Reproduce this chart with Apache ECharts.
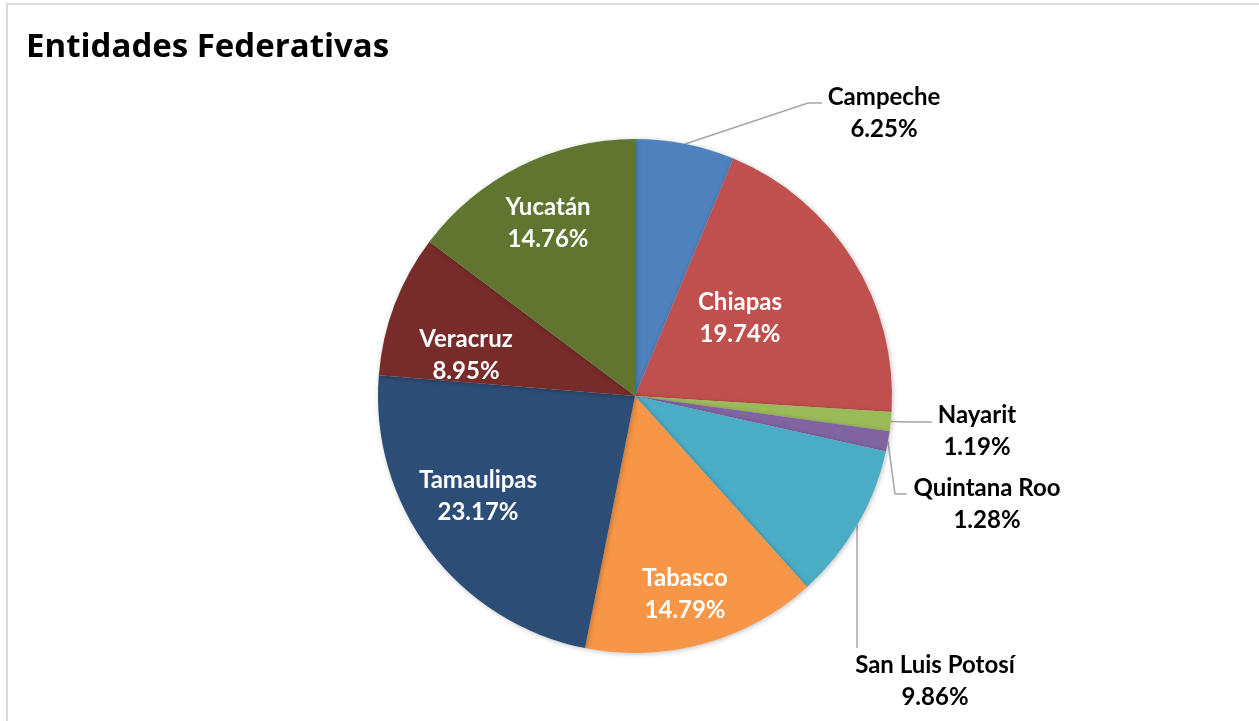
<!DOCTYPE html>
<html>
<head>
<meta charset="utf-8">
<script src="https://cdn.jsdelivr.net/npm/echarts@6/dist/echarts.min.js"></script>
<style>
  html, body { margin: 0; padding: 0; background: #fff; }
  #chart { width: 1259px; height: 721px; }
</style>
</head>
<body>
<div id="chart"></div>
<script>
const states = ['Campeche', 'Chiapas', 'Nayarit', 'Quintana Roo', 'San Luis Potosí', 'Tabasco', 'Tamaulipas', 'Veracruz', 'Yucatán'];
const shares = [6.25, 19.74, 1.19, 1.28, 9.86, 14.79, 23.17, 8.95, 14.76];
const colors = ['#4F81BD', '#C0504D', '#9BBB59', '#8064A2', '#4BACC6', '#F79646', '#2C4D75', '#772C2A', '#5F7530'];
const outside = ['Campeche', 'Nayarit', 'Quintana Roo', 'San Luis Potosí'];

// where Excel placed each label (block centre), same order as states
const labelPos = [
  [884, 113], [740, 318], [977, 431], [987, 504], [935, 681],
  [685, 594], [478, 496], [466, 355], [548, 223],
];

// leader line shape for the outside labels: elbow / end offsets from the label centre
function leader(i, start, pos) {
  const [x, y] = pos;
  if (i === 0) return [start, [x - 76, y - 10], [x - 62, y - 10]];
  if (i === 2) return [start, [x - 65, y - 9], [x - 45, y - 9]];
  if (i === 3) return [start, [x - 92, y - 10], [x - 80, y - 10]];
  if (i === 4) return [start, [start[0], y - 33], [start[0], y - 33]];
  return null;
}

const chart = echarts.init(document.getElementById('chart'));

chart.setOption({
  animation: false,
  graphic: [{
    type: 'rect',
    shape: { x: 7, y: 4, width: 1300, height: 800 },
    style: { fill: 'none', stroke: '#D9D9D9', lineWidth: 2 },
    silent: true,
  }],
  title: {
    text: 'Entidades Federativas',
    left: 21, top: 26,
    textStyle: { fontFamily: 'Open Sans', fontSize: 33, fontWeight: 'bold', color: '#000' },
  },
  series: [{
    type: 'pie',
    center: [635, 396],
    radius: [0, 257],
    startAngle: 90,
    clockwise: true,
    avoidLabelOverlap: false,
    itemStyle: { shadowBlur: 5, shadowColor: 'rgba(0,0,0,0.25)', shadowOffsetX: 1, shadowOffsetY: 1 },
    label: {
      formatter: p => p.name + '\n' + p.value.toFixed(2) + '%',
      fontFamily: 'Lato', fontWeight: 'bold', fontSize: 24, lineHeight: 32,
      align: 'center',
    },
    labelLine: { lineStyle: { color: '#A6A6A6', width: 1.5 }, length: 20, length2: 15 },
    labelLayout: p => {
      const pos = labelPos[p.dataIndex];
      const out = { x: pos[0], y: pos[1], align: 'center', verticalAlign: 'middle' };
      if (p.labelLinePoints) {
        const pts = leader(p.dataIndex, p.labelLinePoints[0], pos);
        if (pts) out.labelLinePoints = pts;
      }
      return out;
    },
    data: states.map((s, i) => ({
      name: s,
      value: shares[i],
      itemStyle: { color: colors[i] },
      label: outside.includes(s)
        ? { position: 'outside', color: '#000' }
        : { position: 'inside', color: '#fff' },
      labelLine: { show: outside.includes(s) },
    })),
  }],
});
</script>
</body>
</html>
